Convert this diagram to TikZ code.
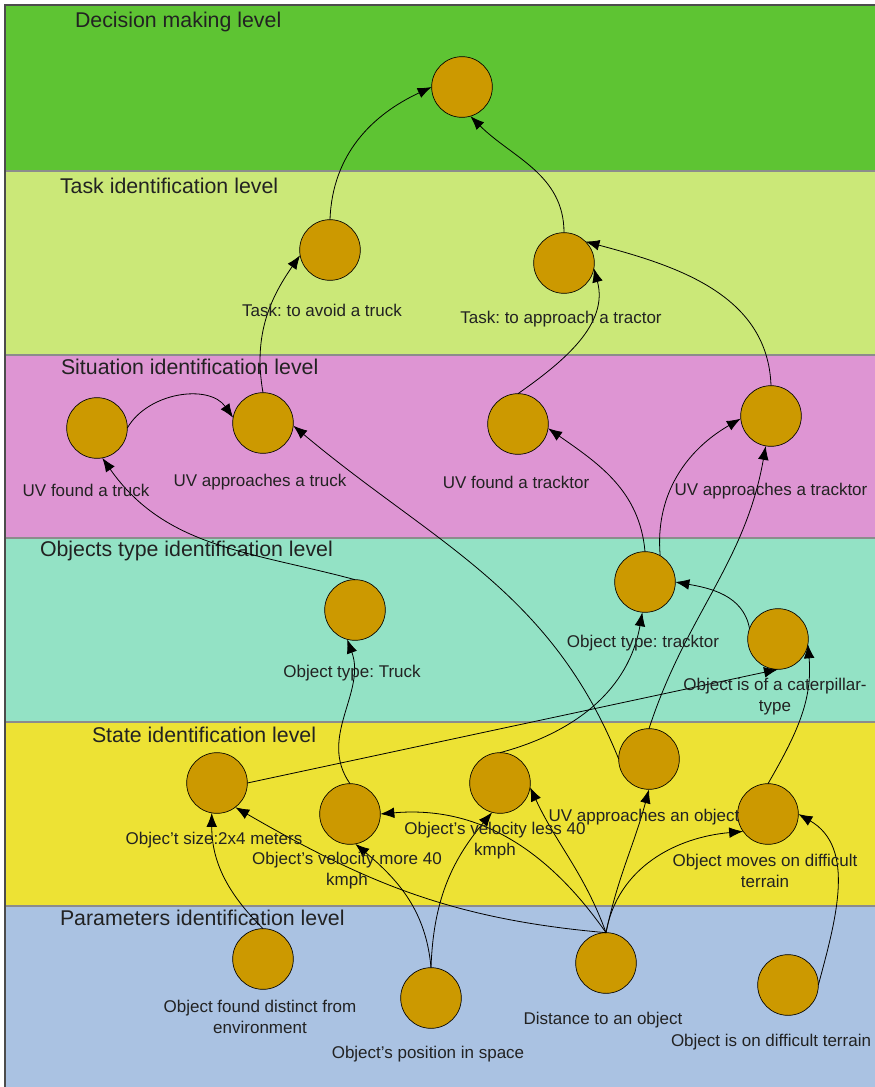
\documentclass[tikz,border=0pt]{standalone}
\usepackage{fontspec}
\setmainfont{Liberation Sans}
\usetikzlibrary{arrows.meta}
\definecolor{decision}{RGB}{94,196,51}
\definecolor{task}{RGB}{203,232,120}
\definecolor{situation}{RGB}{222,149,211}
\definecolor{objtype}{RGB}{147,226,197}
\definecolor{state}{RGB}{237,226,52}
\definecolor{params}{RGB}{170,194,226}
\definecolor{nodefill}{RGB}{204,153,0}
\definecolor{ink}{RGB}{34,34,34}
\frenchspacing

\begin{document}
\begin{tikzpicture}[x=0.75pt,y=0.75pt]
\tikzset{ >={Latex[length=10.5pt,width=8pt]}, inner sep=0pt, outer sep=0pt,
  unit/.style={circle, fill=nodefill, draw=black, line width=0.5pt, minimum size=45.5pt},
  lbl/.style={font=\fontsize{12.75}{15.75}\selectfont, text=ink, align=center},
  ttl/.style={font=\fontsize{16}{19}\selectfont, text=ink, anchor=west},
  band/.style={draw=gray!90, line width=1.2pt},
  link/.style={->, line width=0.6pt},
}

\useasboundingbox (0,0) rectangle (874,-1087);

% levels
\filldraw [band, fill=decision]  (5,-5)   rectangle (880,-171);
\filldraw [band, fill=task]      (5,-171) rectangle (880,-355);
\filldraw [band, fill=situation] (5,-355) rectangle (880,-538);
\filldraw [band, fill=objtype]   (5,-538) rectangle (880,-722);
\filldraw [band, fill=state]     (5,-722) rectangle (880,-906);
\filldraw [band, fill=params]    (5,-906) rectangle (880,-1095);
\draw [gray!60!black, line width=1pt] (5,-1095) -- (5,-5) -- (880,-5);

\node [ttl] (L1) at (75,-22)  {Decision making level};
\node [ttl] (L2) at (60,-186) {Task identification level};
\node [ttl] (L3) at (61,-367) {Situation identification level};
\node [ttl] (L4) at (40,-551) {Objects type identification level};
\node [ttl] (L5) at (92,-735) {State identification level};
\node [ttl] (L6) at (60,-918) {Parameters identification level};

\node [unit] (D)  at (462,-87)  {};

\node [unit] (T1) at (330,-250) {};
\node [unit] (T2) at (564,-263) {};

\node [unit] (S1) at (97,-428)  {};
\node [unit] (S2) at (263,-423) {};
\node [unit] (S3) at (518,-424) {};
\node [unit] (S4) at (771,-416) {};

\node [unit] (O1) at (355,-610) {};
\node [unit] (O2) at (645,-582) {};
\node [unit] (O3) at (778,-639) {};

\node [unit] (Z1) at (217,-783) {};
\node [unit] (Z2) at (350,-814) {};
\node [unit] (Z3) at (500,-783) {};
\node [unit] (Z4) at (649,-759) {};
\node [unit] (Z5) at (768,-814) {};

\node [unit] (P1) at (263,-959) {};
\node [unit] (P2) at (431,-998) {};
\node [unit] (P3) at (606,-963) {};
\node [unit] (P4) at (788,-985) {};

\draw [link] (T1.north) to[out=88,in=205] (D.west);
\draw [link] (T2.north) to[out=90,in=-45] (D.-74);

\draw [link] (S2.north) to[out=100,in=235] (T1.190);
\draw [link] (S3.north) to[out=35,in=-75] (T2.-10);
\draw [link] (S4.north) to[out=92,in=-15] (T2.45);
\draw [link] (S1.east) to[out=60,in=125] (S2.170);

\draw [link] (O1.north) to[out=165,in=-55] (S1.-80);
\draw [link] (Z4.west) to[out=112,in=-40] (S2.-5);
\draw [link] (O2.north) to[out=95,in=-35] (S3.-8);
\draw [link] (O2.60) to[out=95,in=210] (S4.185);
\draw [link] (Z4.north) to[out=72,in=-100] (S4.-100);

\draw [link] (O3.160) to[out=100,in=-10] (O2.east);
\draw [link] (Z1.east) -- (O3.south);
\draw [link] (Z3.north) to[out=15,in=-100] (O2.-95);
\draw [link] (Z2.north) to[out=125,in=-70] (O1.-105);
\draw [link] (Z5.north) to[out=60,in=-85] (O3.-10);

\draw [link] (P1.north) to[out=135,in=-90] (Z1.-100);
\draw [link] (P2.north) to[out=95,in=-40] (Z2.-80);
\draw [link] (P2.north) to[out=88,in=-130] (Z3.-105);
\draw [link] (P3.north) to[out=175,in=-30] (Z1.-53);
\draw [link] (P3.north) to[out=125,in=5] (Z2.east);
\draw [link] (P3.north) to[out=110,in=-65] (Z3.-8);
\draw [link] (P3.north) to[out=78,in=-105] (Z4.south);
\draw [link] (P3.north) to[out=80,in=185] (Z5.215);
\draw [link] (P4.east) to[out=75,in=-30] (Z5.east);

\node [lbl] (T1l) at (322,-310) {Task: to avoid a truck};
\node [lbl] (T2l) at (561,-319) {Task: to approach a tractor};

\node [lbl] (S1l) at (86,-490)  {UV found a truck};
\node [lbl] (S2l) at (260,-482) {UV approaches a truck};
\node [lbl] (S3l) at (516,-482) {UV found a tracktor};
\node [lbl] (S4l) at (771,-491) {UV approaches a tracktor};

\node [lbl] (O1l) at (352,-673) {Object type: Truck};
\node [lbl] (O2l) at (643,-643) {Object type: tracktor};
\node [lbl] (O3l) at (775,-697) {Object is of a caterpillar-\\type};

\node [lbl] (Z1l) at (214,-840) {Objec’t size:2x4 meters};
\node [lbl] (Z2l) at (347,-871) {Object’s velocity more 40\\kmph};
\node [lbl] (Z3l) at (495,-841) {Object’s velocity less 40\\kmph};
\node [lbl] (Z4l) at (644,-817) {UV approaches an object};
\node [lbl] (Z5l) at (765,-871) {Object moves on difficult\\terrain};

\node [lbl] (P1l) at (260,-1017) {Object found distinct from\\environment};
\node [lbl] (P2l) at (428,-1054) {Object’s position in space};
\node [lbl] (P3l) at (603,-1020) {Distance to an object};
\node [lbl] (P4l) at (771,-1042) {Object is on difficult terrain};

\end{tikzpicture}
\end{document}
